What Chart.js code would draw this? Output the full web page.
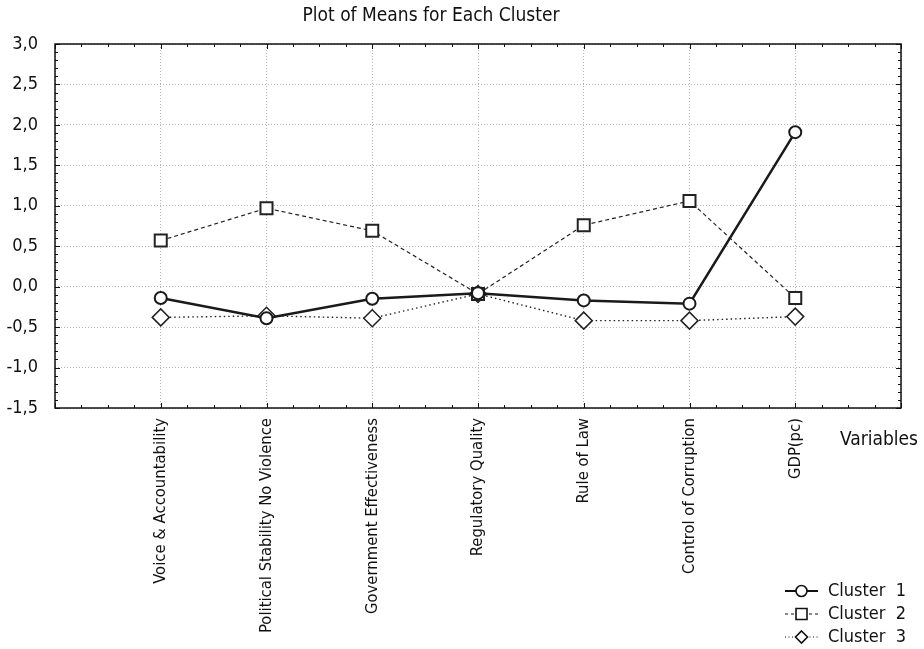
<!DOCTYPE html>
<html>
<head>
<meta charset="utf-8">
<script src="https://cdn.jsdelivr.net/npm/chart.js@4.4.0/dist/chart.umd.min.js"></script>
<style>
  html, body { margin: 0; padding: 0; background: #fff; }
  #wrap { width: 924px; height: 649px; }
</style>
</head>
<body>
<div id="wrap"><canvas id="meansChart" width="924" height="649"></canvas></div>
<script>
const variables = ['', 'Voice & Accountability', 'Political Stability No Violence', 'Government Effectiveness',
    'Regulatory Quality', 'Rule of Law', 'Control of Corruption', 'GDP(pc)', ''];
const cluster1 = [null, -0.14, -0.39, -0.15, -0.08, -0.17, -0.21, 1.91, null];
const cluster2 = [null, 0.57, 0.97, 0.69, -0.09, 0.76, 1.06, -0.14, null];
const cluster3 = [null, -0.38, -0.36, -0.39, -0.09, -0.42, -0.42, -0.37, null];
const yMin = -1.5;
const yMax = 3.0;
const yStep = 0.5;

const fontFamily = '"Liberation Sans Narrow", "DejaVu Sans Condensed", "Arial Narrow", sans-serif';

// frame, ticks, title, axis name and legend
const decorations = {
    id: 'decorations',
    afterDraw(chart) {
        const ctx = chart.ctx;
        const area = chart.chartArea;
        const xs = chart.scales.x;
        const ys = chart.scales.y;
        ctx.save();
        ctx.strokeStyle = '#111';
        ctx.lineWidth = 1.5;
        ctx.strokeRect(area.left, area.top, area.right - area.left, area.bottom - area.top);

        ctx.lineWidth = 1;
        ctx.beginPath();
        // x ticks, 4 per category
        for (let i = 0; i < variables.length; i++) {
            for (let q = 0; q < 4; q++) {
                if (i === variables.length - 1 && q > 0) break;
                const x = Math.round(xs.getPixelForValue(i + q / 4)) + 0.5;
                const len = q === 0 ? 5 : 3;
                ctx.moveTo(x, area.bottom); ctx.lineTo(x, area.bottom - len);
                ctx.moveTo(x, area.top); ctx.lineTo(x, area.top + len);
            }
        }
        // y ticks every 0.1
        const n = Math.round((yMax - yMin) / 0.1);
        for (let k = 0; k <= n; k++) {
            const v = yMin + k * 0.1;
            const y = Math.round(ys.getPixelForValue(v)) + 0.5;
            const len = k % 5 === 0 ? 5 : 3;
            ctx.moveTo(area.left, y); ctx.lineTo(area.left + len, y);
            ctx.moveTo(area.right, y); ctx.lineTo(area.right - len, y);
        }
        ctx.stroke();

        ctx.fillStyle = '#111';
        ctx.font = '19px ' + fontFamily;
        ctx.textAlign = 'center';
        ctx.textBaseline = 'middle';
        ctx.fillText('Plot of Means for Each Cluster', 431, 16);

        ctx.font = '19px ' + fontFamily;
        ctx.textAlign = 'left';
        ctx.fillText('Variables', 840, 440);

        // legend
        const items = [
            { label: 'Cluster  1', dash: [], width: 2.2, style: 'circle' },
            { label: 'Cluster  2', dash: [3, 3], width: 1.2, style: 'rect' },
            { label: 'Cluster  3', dash: [1, 2.5], width: 1.2, style: 'diamond' }
        ];
        ctx.font = '18px ' + fontFamily;
        items.forEach((it, i) => {
            const y = 591 + i * 23;
            ctx.strokeStyle = '#111';
            ctx.lineWidth = it.width;
            ctx.setLineDash(it.dash);
            ctx.beginPath();
            ctx.moveTo(785, y); ctx.lineTo(818, y);
            ctx.stroke();
            ctx.setLineDash([]);
            ctx.lineWidth = 1.6;
            ctx.fillStyle = '#fff';
            ctx.beginPath();
            if (it.style === 'circle') {
                ctx.arc(801.5, y, 5.5, 0, Math.PI * 2);
            } else if (it.style === 'rect') {
                ctx.rect(796, y - 5.5, 11, 11);
            } else {
                ctx.moveTo(801.5, y - 6); ctx.lineTo(807.5, y); ctx.lineTo(801.5, y + 6); ctx.lineTo(795.5, y); ctx.closePath();
            }
            ctx.fill();
            ctx.stroke();
            ctx.fillStyle = '#111';
            ctx.fillText(it.label, 828, y);
        });
        ctx.restore();
    }
};

const ctx = document.getElementById('meansChart').getContext('2d');

new Chart(ctx, {
    type: 'line',
    data: {
        labels: variables,
        datasets: [
            {
                label: 'Cluster 1',
                data: cluster1,
                borderColor: '#1a1a1a',
                borderWidth: 2.5,
                pointStyle: 'circle',
                pointRadius: 6,
                pointBorderWidth: 2,
                pointBackgroundColor: '#fff',
                pointBorderColor: '#1a1a1a',
                tension: 0
            },
            {
                label: 'Cluster 2',
                data: cluster2,
                borderColor: '#222',
                borderWidth: 1.2,
                borderDash: [4, 3],
                pointStyle: 'rect',
                pointRadius: 8.5,
                pointBorderWidth: 2,
                pointBackgroundColor: '#fff',
                pointBorderColor: '#222',
                tension: 0
            },
            {
                label: 'Cluster 3',
                data: cluster3,
                borderColor: '#222',
                borderWidth: 1.4,
                borderDash: [1.5, 3],
                pointStyle: 'rectRot',
                pointRadius: 8.5,
                pointBorderWidth: 1.5,
                pointBackgroundColor: '#fff',
                pointBorderColor: '#222',
                tension: 0
            }
        ]
    },
    options: {
        responsive: false,
        animation: false,
        spanGaps: false,
        layout: { padding: { top: 44, right: 23, left: 0, bottom: 0 } },
        plugins: {
            legend: { display: false },
            title: { display: false },
            tooltip: { enabled: false }
        },
        scales: {
            x: {
                type: 'category',
                offset: false,
                grid: { color: '#b5b5b5', lineWidth: 1, drawTicks: false },
                border: { display: false, dash: [1, 2] },
                ticks: {
                    autoSkip: false,
                    minRotation: 90,
                    maxRotation: 90,
                    padding: 10,
                    color: '#111',
                    font: { family: fontFamily, size: 16.5 }
                },
                afterFit(scale) {
                    scale.height = 241;
                    scale.paddingLeft = 0;
                    scale.paddingRight = 0;
                }
            },
            y: {
                min: yMin,
                max: yMax,
                grid: { color: '#b5b5b5', lineWidth: 1, drawTicks: false },
                border: { display: false, dash: [1, 2] },
                ticks: {
                    stepSize: yStep,
                    padding: 17,
                    color: '#111',
                    font: { family: fontFamily, size: 18 },
                    callback: (v) => Number(v).toFixed(1).replace('.', ',')
                },
                afterFit(scale) {
                    scale.width = 55;
                    scale.paddingTop = 0;
                    scale.paddingBottom = 0;
                }
            }
        }
    },
    plugins: [decorations]
});
</script>
</body>
</html>
